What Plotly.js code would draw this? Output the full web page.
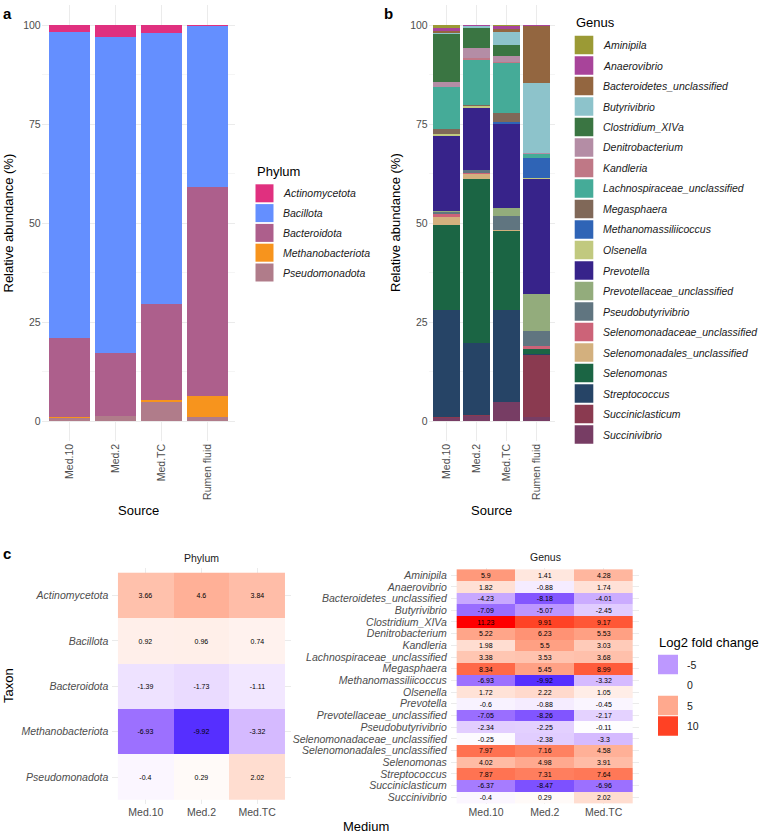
<!DOCTYPE html>
<html>
<head>
<meta charset="utf-8">
<script src="https://cdn.plot.ly/plotly-3.0.1.min.js"></script>
<style>html,body{margin:0;padding:0;background:#fff;}</style>
</head>
<body>
<div id="chart" style="width:764px;height:833px;"></div>
<script>
// ---------- data ----------
const sources = ['Med.10', 'Med.2', 'Med.TC', 'Rumen fluid'];
const media = ['Med.10', 'Med.2', 'Med.TC'];

// Phylum relative abundance (%), one value per source
const phyla = ['Actinomycetota', 'Bacillota', 'Bacteroidota', 'Methanobacteriota', 'Pseudomonadota'];
const phylumColors = ['#E0307F', '#648FFF', '#AD5F8C', '#F7941D', '#B07C8A'];
const actinomycetota   = [1.7, 3.1, 1.9, 0.13];
const bacillota        = [77.41, 79.65, 68.5, 40.67];
const bacteroidota     = [20.0, 15.9, 24.4, 52.9];
const methanobacteriota = [0.04, 0.01, 0.5, 5.2];
const pseudomonadota   = [0.85, 1.35, 4.7, 1.1];

// Genus relative abundance (%), one array per source, in the order of `genera`
const genera = ['Aminipila', 'Anaerovibrio', 'Bacteroidetes_unclassified', 'Butyrivibrio',
  'Clostridium_XIVa', 'Denitrobacterium', 'Kandleria', 'Lachnospiraceae_unclassified',
  'Megasphaera', 'Methanomassiliicoccus', 'Olsenella', 'Prevotella',
  'Prevotellaceae_unclassified', 'Pseudobutyrivibrio', 'Selenomonadaceae_unclassified',
  'Selenomonadales_unclassified', 'Selenomonas', 'Streptococcus', 'Succiniclasticum', 'Succinivibrio'];
const genusColors = ['#9B9A35', '#A8449A', '#936640', '#8DC3CB', '#3A7542', '#B48DA5', '#BF7886',
  '#45AB98', '#806858', '#2F64B6', '#C1C97F', '#37238A', '#93AC7C', '#607580', '#CC6378',
  '#D3B07E', '#1B6544', '#264466', '#8A3A50', '#773D64'];
const genusMed10 = [0.8, 0.6, 0.75, 0.15, 12.2, 1.2, 0.05, 10.4, 1.4, 0.04, 0.35, 19.1, 0.07, 0.75, 0.6, 2.1, 21.5, 26.9, 0.2, 0.85];
const genusMed2  = [0.05, 0.1, 0.05, 0.6, 5.0, 2.4, 0.6, 11.4, 0.2, 0.01, 0.5, 15.7, 0.03, 0.8, 0.15, 1.2, 41.5, 18.3, 0.04, 1.35];
const genusMedTC = [0.3, 0.6, 0.85, 3.3, 2.8, 1.5, 0.1, 12.7, 2.2, 0.5, 0.2, 21.2, 2.0, 3.4, 0.1, 0.2, 20.0, 23.2, 0.12, 4.7];
const genusRumen = [0.01, 0.17, 14.34, 17.9, 0.01, 0.03, 0.01, 1.0, 0.0, 5.2, 0.1, 29.1, 9.5, 3.8, 0.7, 0.01, 1.3, 0.12, 15.6, 1.1];

// Log2 fold change of each medium against rumen fluid
const phylumLog2FC = [
  [3.66, 4.6, 3.84],
  [0.92, 0.96, 0.74],
  [-1.39, -1.73, -1.11],
  [-6.93, -9.92, -3.32],
  [-0.4, 0.29, 2.02]
];
const genusLog2FC = [
  [5.9, 1.41, 4.28],
  [1.82, -0.88, 1.74],
  [-4.23, -8.18, -4.01],
  [-7.09, -5.07, -2.45],
  [11.23, 9.91, 9.17],
  [5.22, 6.23, 5.53],
  [1.98, 5.5, 3.03],
  [3.38, 3.53, 3.68],
  [8.34, 5.45, 8.99],
  [-6.93, -9.92, -3.32],
  [1.72, 2.22, 1.05],
  [-0.6, -0.88, -0.45],
  [-7.05, -8.26, -2.17],
  [-2.34, -2.25, -0.11],
  [-0.25, -2.38, -3.3],
  [7.97, 7.16, 4.58],
  [4.02, 4.98, 3.91],
  [7.87, 7.31, 7.64],
  [-6.37, -8.47, -6.96],
  [-0.4, 0.29, 2.02]
];
const fcBreaks = [-5, 0, 5, 10];

// ---------- helpers ----------
const W = 764, H = 833;
const X = px => px / W;
const Y = py => 1 - py / H;
const FONT = 'Liberation Sans, Arial, Helvetica, sans-serif';
const TICK = '#4D4D4D';
const GRID = '#EBEBEB';

// Lab-space colour interpolation (blue - white - red diverging scale)
function hexRgb(h) { h = h.replace('#', ''); return [0, 2, 4].map(i => parseInt(h.substr(i, 2), 16)); }
function toLin(c) { c /= 255; return c <= 0.04045 ? c / 12.92 : Math.pow((c + 0.055) / 1.055, 2.4); }
function toSrgb(c) { c = c <= 0.0031308 ? 12.92 * c : 1.055 * Math.pow(c, 1 / 2.4) - 0.055; return Math.round(Math.max(0, Math.min(1, c)) * 255); }
function rgbLab(rgb) {
  const [r, g, b] = rgb.map(toLin);
  const x = (0.4124 * r + 0.3576 * g + 0.1805 * b) / 0.95047;
  const y = (0.2126 * r + 0.7152 * g + 0.0722 * b);
  const z = (0.0193 * r + 0.1192 * g + 0.9505 * b) / 1.08883;
  const f = t => t > 0.008856 ? Math.cbrt(t) : 7.787 * t + 16 / 116;
  const fx = f(x), fy = f(y), fz = f(z);
  return [116 * fy - 16, 500 * (fx - fy), 200 * (fy - fz)];
}
function labRgb(lab) {
  const fy = (lab[0] + 16) / 116, fx = fy + lab[1] / 500, fz = fy - lab[2] / 200;
  const fi = t => t * t * t > 0.008856 ? t * t * t : (t - 16 / 116) / 7.787;
  const x = 0.95047 * fi(fx), y = fi(fy), z = 1.08883 * fi(fz);
  const r = 3.2406 * x - 1.5372 * y - 0.4986 * z;
  const g = -0.9689 * x + 1.8758 * y + 0.0415 * z;
  const b = 0.0557 * x - 0.2040 * y + 1.0570 * z;
  return 'rgb(' + [r, g, b].map(toSrgb).join(',') + ')';
}
const LOW = rgbLab(hexRgb('#0000FF')), MID = rgbLab(hexRgb('#FFFFFF')), HIGH = rgbLab(hexRgb('#FF0000'));
function divColor(t) {
  const a = t < 0.5 ? LOW : MID, b = t < 0.5 ? MID : HIGH;
  const f = t < 0.5 ? t / 0.5 : (t - 0.5) / 0.5;
  return labRgb([0, 1, 2].map(i => a[i] + (b[i] - a[i]) * f));
}
const colorscale = [];
for (let i = 0; i <= 60; i++) colorscale.push([i / 60, divColor(i / 60)]);
const allFC = phylumLog2FC.flat().concat(genusLog2FC.flat());
const fcLim = Math.max(...allFC.map(Math.abs));
const fcColor = v => divColor((v + fcLim) / (2 * fcLim));

// ---------- traces ----------
const traces = [];
const phylumValues = [actinomycetota, bacillota, bacteroidota, methanobacteriota, pseudomonadota];
for (let i = phyla.length - 1; i >= 0; i--) {
  traces.push({
    type: 'bar', name: phyla[i], x: sources, y: phylumValues[i], width: 0.9,
    marker: { color: phylumColors[i], line: { width: 0 } },
    xaxis: 'x', yaxis: 'y', showlegend: false, hoverinfo: 'skip'
  });
}
for (let i = genera.length - 1; i >= 0; i--) {
  traces.push({
    type: 'bar', name: genera[i], x: sources,
    y: [genusMed10[i], genusMed2[i], genusMedTC[i], genusRumen[i]], width: 0.9,
    marker: { color: genusColors[i], line: { width: 0 } },
    xaxis: 'x2', yaxis: 'y2', showlegend: false, hoverinfo: 'skip'
  });
}
const heat = (z, rows, xa, ya) => ({
  type: 'heatmap', x: media, y: rows, z: z,
  text: z.map(r => r.map(v => String(v))), texttemplate: '%{text}',
  textfont: { family: FONT, size: 7, color: '#000' },
  colorscale: colorscale, zmin: -fcLim, zmax: fcLim, showscale: false,
  xaxis: xa, yaxis: ya, hoverinfo: 'skip'
});
traces.push(heat(phylumLog2FC, phyla, 'x3', 'y3'));
traces.push(heat(genusLog2FC, genera, 'x4', 'y4'));

// ---------- axes ----------
const barX = dom => ({
  domain: dom, type: 'category', range: [-0.6, 3.6], tickangle: -90,
  tickfont: { family: FONT, size: 10.5, color: TICK },
  showgrid: true, gridcolor: GRID, gridwidth: 1, zeroline: false, showline: false, ticks: '', fixedrange: true
});
const barY = (dom, anchor) => ({
  domain: dom, anchor: anchor, range: [-5, 105], tickmode: 'linear', tick0: 0, dtick: 25,
  tickfont: { family: FONT, size: 10.5, color: TICK },
  showgrid: true, gridcolor: GRID, gridwidth: 1, zeroline: false, showline: false, ticks: '',
  minor: { tick0: 0, dtick: 12.5, showgrid: true, gridcolor: '#F3F3F3', gridwidth: 0.8 },
  fixedrange: true
});
const heatX = (dom, anchor) => ({
  domain: dom, anchor: anchor, type: 'category', range: [-0.6, 2.6],
  tickfont: { family: FONT, size: 10.5, color: TICK },
  showgrid: true, gridcolor: GRID, gridwidth: 1, zeroline: false, showline: false, ticks: ''
});
const heatY = (dom, anchor, rows) => ({
  domain: dom, anchor: anchor, type: 'category', range: [rows.length - 0.4, -0.6],
  tickmode: 'array', tickvals: rows, ticktext: rows,
  tickfont: { family: FONT, size: 10.5, color: TICK, style: 'italic' },
  showgrid: true, gridcolor: GRID, gridwidth: 1, zeroline: false, showline: false, ticks: '',
  ticklabelstandoff: 3
});

const barYDom = [Y(440.8), Y(5.2)];
const heatYDom = [Y(804.3), Y(568.2)];

// ---------- annotations and legend keys ----------
const annotations = [];
const shapes = [];
const txt = (text, px, py, o) => annotations.push(Object.assign({
  text: text, x: X(px), y: Y(py), xref: 'paper', yref: 'paper', showarrow: false,
  xanchor: 'center', yanchor: 'middle', font: { family: FONT, size: 13, color: '#000' }
}, o || {}));
const key = (x0, x1, yc, h, color) => shapes.push({
  type: 'rect', xref: 'paper', yref: 'paper', x0: X(x0), x1: X(x1), y0: Y(yc + h / 2), y1: Y(yc - h / 2),
  fillcolor: color, line: { width: 0 }
});

// panel tags
txt('<b>a</b>', 1, 13, { xanchor: 'left', font: { family: FONT, size: 15, color: '#000' } });
txt('<b>b</b>', 382, 13, { xanchor: 'left', font: { family: FONT, size: 15, color: '#000' } });
txt('<b>c</b>', 1, 553, { xanchor: 'left', font: { family: FONT, size: 15, color: '#000' } });

// axis titles
txt('Relative abundance (%)', 7.5, 223, { textangle: -90 });
txt('Relative abundance (%)', 395, 223, { textangle: -90 });
txt('Source', 138, 510);
txt('Source', 492, 510);
txt('Taxon', 8, 686, { textangle: -90 });
txt('Medium', 366, 826);
txt('Phylum', 201, 558, { font: { family: FONT, size: 10.5, color: '#1A1A1A' } });
txt('Genus', 545, 557, { font: { family: FONT, size: 10.5, color: '#1A1A1A' } });

// phylum legend
txt('Phylum', 255, 171, { xanchor: 'left' });
phyla.forEach((p, i) => {
  const yc = 193.3 + 19.8 * i;
  key(255.5, 273.5, yc, 18, phylumColors[i]);
  txt('<i>' + p + '</i>', 281, yc, { xanchor: 'left', font: { family: FONT, size: 10.5, color: '#1A1A1A' } });
});

// genus legend
txt('Genus', 573.5, 23, { xanchor: 'left' });
genera.forEach((g, i) => {
  const yc = 45 + 20.5 * i;
  key(574.7, 593.3, yc, 18.5, genusColors[i]);
  txt('<i>' + g + '</i>', 601, yc, { xanchor: 'left', font: { family: FONT, size: 10.5, color: '#1A1A1A' } });
});

// fold-change legend
txt('Log2 fold change', 657, 642, { xanchor: 'left' });
fcBreaks.forEach((v, i) => {
  const yc = 664.5 + 20.5 * i;
  key(658, 678, yc, 19.5, fcColor(v));
  txt(String(v), 685, yc, { xanchor: 'left', font: { family: FONT, size: 10.5, color: '#1A1A1A' } });
});

const layout = {
  width: W, height: H, margin: { l: 0, r: 0, t: 0, b: 0 },
  paper_bgcolor: '#fff', plot_bgcolor: '#fff',
  font: { family: FONT, color: '#000' },
  barmode: 'stack', bargap: 0.1, showlegend: false, hovermode: false,
  xaxis: barX([X(41.7), X(234.9)]), yaxis: barY(barYDom, 'x'),
  xaxis2: Object.assign(barX([X(428.7), X(554.7)]), { anchor: 'y2' }), yaxis2: barY(barYDom, 'x2'),
  xaxis3: heatX([X(112.4), X(290.6)], 'y3'), yaxis3: heatY(heatYDom, 'x3', phyla),
  xaxis4: heatX([X(450.8), X(638.9)], 'y4'), yaxis4: heatY(heatYDom, 'x4', genera),
  annotations: annotations, shapes: shapes
};

Plotly.newPlot('chart', traces, layout, { staticPlot: true, displayModeBar: false });
</script>
</body>
</html>
